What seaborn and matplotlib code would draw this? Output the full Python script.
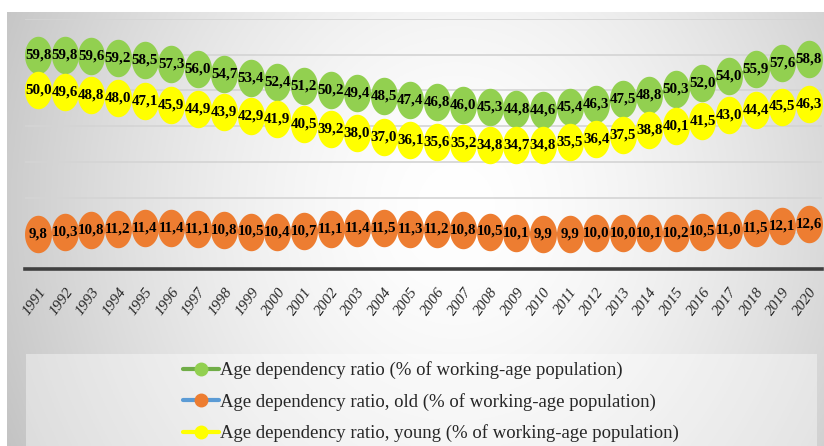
import numpy as np
import pandas as pd
import matplotlib
matplotlib.use("Agg")
import matplotlib.pyplot as plt
from matplotlib.lines import Line2D
from matplotlib.patches import Rectangle
import seaborn as sns

years = [str(y) for y in range(1991, 2021)]
total = [59.8, 59.8, 59.6, 59.2, 58.5, 57.3, 56.0, 54.7, 53.4, 52.4, 51.2, 50.2, 49.4, 48.5, 47.4,
         46.8, 46.0, 45.3, 44.8, 44.6, 45.4, 46.3, 47.5, 48.8, 50.3, 52.0, 54.0, 55.9, 57.6, 58.8]
old = [9.8, 10.3, 10.8, 11.2, 11.4, 11.4, 11.1, 10.8, 10.5, 10.4, 10.7, 11.1, 11.4, 11.5, 11.3,
       11.2, 10.8, 10.5, 10.1, 9.9, 9.9, 10.0, 10.0, 10.1, 10.2, 10.5, 11.0, 11.5, 12.1, 12.6]
young = [50.0, 49.6, 48.8, 48.0, 47.1, 45.9, 44.9, 43.9, 42.9, 41.9, 40.5, 39.2, 38.0, 37.0, 36.1,
         35.6, 35.2, 34.8, 34.7, 34.8, 35.5, 36.4, 37.5, 38.8, 40.1, 41.5, 43.0, 44.4, 45.5, 46.3]
series_names = ["Age dependency ratio (% of working-age population)",
                "Age dependency ratio, old (% of working-age population)",
                "Age dependency ratio, young (% of working-age population)"]

sns.set_theme(style="white")
SERIF = ["Liberation Serif", "DejaVu Serif"]
plt.rcParams["font.family"] = SERIF

W, H = 824, 446
fig = plt.figure(figsize=(W / 100, H / 100), dpi=100)
fig.patch.set_facecolor("white")

# background gradient panel
bg = fig.add_axes([7 / W, 0, 1 - 7 / W, 1 - 12 / H])
bg.set_axis_off()
gx = np.linspace(0, 1, 400)
gy = np.linspace(0, 1, 250)
GX, GY = np.meshgrid(gx, gy)
d = np.sqrt(((GX - 0.55) / 0.62) ** 2 + ((GY - 0.45) / 1.3) ** 2)
val = 1.0 - 0.24 * np.clip(d, 0, 1.2) ** 1.6
img = np.dstack([val, val, val])
bg.imshow(img, aspect="auto", extent=[0, 1, 0, 1], zorder=0)
bg.set_xlim(0, 1)
bg.set_ylim(0, 1)

# legend box overlay
fig.patches.append(Rectangle((26 / W, 0), (817 - 26) / W, (446 - 354) / H,
                             transform=fig.transFigure, facecolor="white",
                             alpha=0.4, edgecolor="none", zorder=1))

ax = fig.add_axes([25 / W, 177 / H, (822 - 25) / W, (269 - 19) / H])
ax.set_facecolor("none")

x = np.arange(len(years))
df = pd.DataFrame({"x": x, "total": total, "old": old, "young": young})

t = np.linspace(0, 2 * np.pi, 60)
ellipse = np.column_stack([0.72 * np.cos(t), np.sin(t)])

specs = [("total", "#70AD47", "#92D050"),
         ("old", "#5B9BD5", "#ED7D31"),
         ("young", "#FFFF00", "#FFFF00")]

for col, lc, mc in specs:
    sns.lineplot(data=df, x="x", y=col, ax=ax, color=lc, linewidth=2.5,
                 marker=ellipse, markersize=27, markerfacecolor=mc,
                 markeredgecolor=mc, markeredgewidth=0, zorder=3)

for col, _, _ in specs:
    for xi, v in zip(x, df[col]):
        ax.text(xi, v, f"{v:.1f}".replace(".", ","), ha="center", va="center",
                fontsize=10.8, fontweight="bold", color="black", zorder=5,
                family=SERIF)

ax.set_xlim(-0.5, len(years) - 0.5)
ax.set_ylim(0, 70)
ax.set_yticks(np.arange(10, 71, 10))
ax.set_yticklabels([])
ax.yaxis.grid(True, color="#d4d4d4", linewidth=1.2)
ax.set_axisbelow(True)
ax.tick_params(axis="y", length=0)
ax.set_xticks(x)
ax.set_xticklabels(years, rotation=54, ha="right", rotation_mode="anchor",
                   fontstyle="italic", fontsize=11, family=SERIF)
ax.tick_params(axis="x", length=0, pad=12)
ax.set_xlabel("")
ax.set_ylabel("")
for s in ["top", "right", "left"]:
    ax.spines[s].set_visible(False)
ax.spines["bottom"].set_color("#404040")
ax.spines["bottom"].set_linewidth(2.6)
ax.spines["bottom"].set_zorder(2)
if ax.get_legend():
    ax.get_legend().remove()

handles = [Line2D([0], [0], color=lc, linewidth=3, marker="o", markersize=9,
                  markerfacecolor=mc, markeredgecolor=mc) for _, lc, mc in specs]
fig.legend(handles, series_names, loc="upper left",
           bbox_to_anchor=(174 / W, 1 - 352 / H), frameon=False,
           prop={"family": SERIF, "size": 13.5}, handlelength=1.9,
           handletextpad=0.05, labelspacing=0.72, borderpad=0)

fig.savefig("out.png", dpi=100)
